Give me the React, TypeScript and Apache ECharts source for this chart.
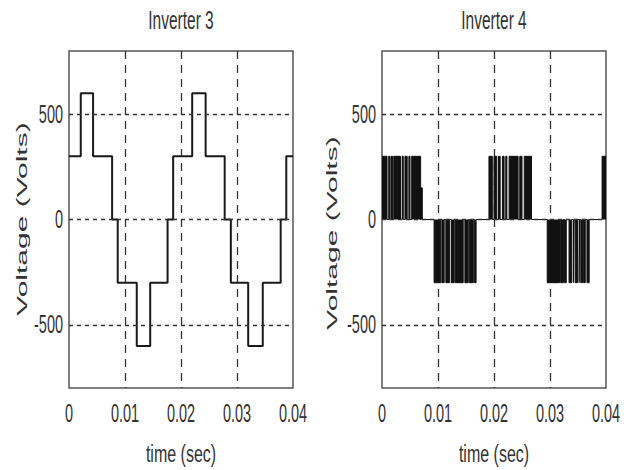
import React, { useEffect, useRef } from 'react';
import * as echarts from 'echarts';

const W = 631;
const H = 470;

// Axis ticks & labels
const xTickValues = [0, 0.01, 0.02, 0.03, 0.04];
const xTickLabels = ['0', '0.01', '0.02', '0.03', '0.04'];
const yTickValues = [-500, 0, 500];
const yTickLabels = ['-500', '0', '500'];
const panelTitles = ['Inverter 3', 'Inverter 4'];
const xAxisName = 'time (sec)';
const yAxisName = 'Voltage (Volts)';

// Inverter 3: stepped waveform (value holds from each time until the next)
const inv3Times = [0, 0.0021, 0.0043, 0.0077, 0.0087, 0.0121, 0.0145, 0.0176, 0.0186, 0.022, 0.0244, 0.0278, 0.0289, 0.032, 0.0346, 0.0378, 0.0388, 0.04];
const inv3Volts = [300, 600, 300, 0, -300, -600, -300, 0, 300, 600, 300, 0, -300, -600, -300, 0, 300, 300];

// Inverter 4: PWM pulses [start, end, level]
const inv4PosBlock1 = [[0, 0.0009, 300], [0.0012, 0.0014, 300], [0.0016, 0.0019, 300], [0.0021, 0.0033, 300], [0.0036, 0.0038, 300], [0.0041, 0.0045, 300], [0.0048, 0.005, 300], [0.0053, 0.0069, 300], [0.0069, 0.0072, 150]];
const inv4NegBlock1 = [[0.0093, 0.0105, -300], [0.0107, 0.0111, -300], [0.0114, 0.0121, -300], [0.0124, 0.0129, -300], [0.0131, 0.0145, -300], [0.0148, 0.0154, -300], [0.0156, 0.0163, -300], [0.0165, 0.0168, -300]];
const inv4PosBlock2 = [[0.0191, 0.0197, 300], [0.02, 0.0205, 300], [0.0208, 0.0211, 300], [0.0215, 0.0218, 300], [0.0221, 0.0223, 300], [0.0227, 0.0243, 300], [0.0246, 0.025, 300], [0.0254, 0.0267, 300]];
const inv4NegBlock2 = [[0.0295, 0.0317, -300], [0.0319, 0.0324, -300], [0.0326, 0.0329, -300], [0.0334, 0.0339, -300], [0.0342, 0.0343, -300], [0.0345, 0.0349, -300], [0.0352, 0.0353, -300], [0.0355, 0.0358, -300], [0.036, 0.0363, -300], [0.0366, 0.037, -300]];
const inv4PosBlock3 = [[0.0393, 0.04, 300]];

const X_MIN = 0;
const X_MAX = 0.04;

const GRIDS = [
  { left: 69, top: 51, width: 224, height: 337 },
  { left: 382, top: 51, width: 224, height: 337 },
];

const FONT = '"Liberation Sans", Arial, Helvetica, sans-serif';
const TEXT_COLOR = '#333';

function buildInv3() {
  return inv3Times.map((t, i) => [t, inv3Volts[i]]);
}

function buildInv4() {
  const pulses = [...inv4PosBlock1, ...inv4NegBlock1, ...inv4PosBlock2, ...inv4NegBlock2, ...inv4PosBlock3];
  const pts: number[][] = [];
  pulses.forEach(([s, e, lvl]) => {
    pts.push([s, lvl]);
    if (e >= X_MAX) pts.push([e, lvl]);
    else pts.push([e, 0]);
  });
  return pts;
}

export default function App() {
  const ref = useRef<HTMLDivElement>(null);

  useEffect(() => {
    if (!ref.current) return;
    const chart = echarts.init(ref.current, undefined, { renderer: 'svg' });

    const gridLineColor = '#333';

    const option: any = {
      animation: false,
      backgroundColor: '#fff',
      grid: GRIDS.map((g) => ({ ...g, show: true, borderColor: '#555', borderWidth: 1.5, backgroundColor: 'transparent' })),
      xAxis: GRIDS.map((_, i) => ({
        type: 'value',
        gridIndex: i,
        min: X_MIN,
        max: X_MAX,
        interval: 0.01,
        axisLine: { show: false },
        axisTick: { show: false },
        axisLabel: { show: false },
        splitLine: {
          show: true,
          showMinLine: false,
          showMaxLine: false,
          lineStyle: { color: gridLineColor, width: 1.3, type: [8, 6] },
        },
      })),
      yAxis: GRIDS.map((_, i) => ({
        type: 'value',
        gridIndex: i,
        min: -800,
        max: 800,
        axisLine: { show: false },
        axisTick: { show: false },
        axisLabel: { show: false },
        splitLine: { show: false },
      })),
      series: [
        ...GRIDS.map((_, i) => ({
          type: 'line',
          xAxisIndex: i,
          yAxisIndex: i,
          data: [],
          silent: true,
          z: 1,
          markLine: {
            silent: true,
            symbol: ['none', 'none'],
            label: { show: false },
            emphasis: { disabled: true },
            lineStyle: { color: gridLineColor, width: 1.3, type: [4, 4] },
            data: yTickValues.map((v) => ({ yAxis: v })),
          },
        })),
        {
          name: panelTitles[0],
          type: 'line',
          xAxisIndex: 0,
          yAxisIndex: 0,
          step: 'end',
          showSymbol: false,
          symbol: 'none',
          z: 3,
          lineStyle: { color: '#1a1a1a', width: 2 },
          data: buildInv3(),
        },
        {
          name: panelTitles[1],
          type: 'line',
          xAxisIndex: 1,
          yAxisIndex: 1,
          step: 'end',
          showSymbol: false,
          symbol: 'none',
          z: 3,
          lineStyle: { color: '#111', width: 1 },
          areaStyle: { color: '#111', opacity: 1 },
          data: buildInv4(),
        },
      ],
    };

    chart.setOption(option);

    const px = (i: number, x: number, y: number) =>
      chart.convertToPixel({ gridIndex: i } as any, [x, y]) as number[];

    const text = (
      str: string,
      x: number,
      y: number,
      fontSize: number,
      align: string,
      scaleX = 1,
      scaleY = 1,
      rotation = 0
    ) => ({
      type: 'text',
      x,
      y,
      scaleX,
      scaleY,
      rotation,
      silent: true,
      style: {
        text: str,
        fill: TEXT_COLOR,
        fontSize,
        fontFamily: FONT,
        align,
        verticalAlign: 'middle',
      },
    });

    const elements: any[] = [];
    GRIDS.forEach((g, i) => {
      const cx = g.left + g.width / 2;
      const bottom = g.top + g.height;
      elements.push(text(panelTitles[i], cx, 20, 15.5, 'center', 1, 1.72));
      xTickValues.forEach((v, k) => {
        const p = px(i, v, 0);
        elements.push(text(xTickLabels[k], p[0], bottom + 25, 14.5, 'center', 1, 1.72));
      });
      yTickValues.forEach((v, k) => {
        const p = px(i, 0, v);
        elements.push(text(yTickLabels[k], g.left - 6, p[1], 14.5, 'right', 1, 1.72));
      });
      elements.push(text(xAxisName, cx, 453, 16, 'center', 1, 1.55));
    });
    elements.push(text(yAxisName, 22, 219, 15, 'center', 2.0, 1, Math.PI / 2));
    elements.push(text(yAxisName, 332, 233, 15, 'center', 2.0, 1, Math.PI / 2));

    chart.setOption({ graphic: elements });

    return () => chart.dispose();
  }, []);

  return (
    <div
      ref={ref}
      style={{ position: 'fixed', left: 0, top: 0, width: W, height: H, background: '#fff' }}
    />
  );
}
